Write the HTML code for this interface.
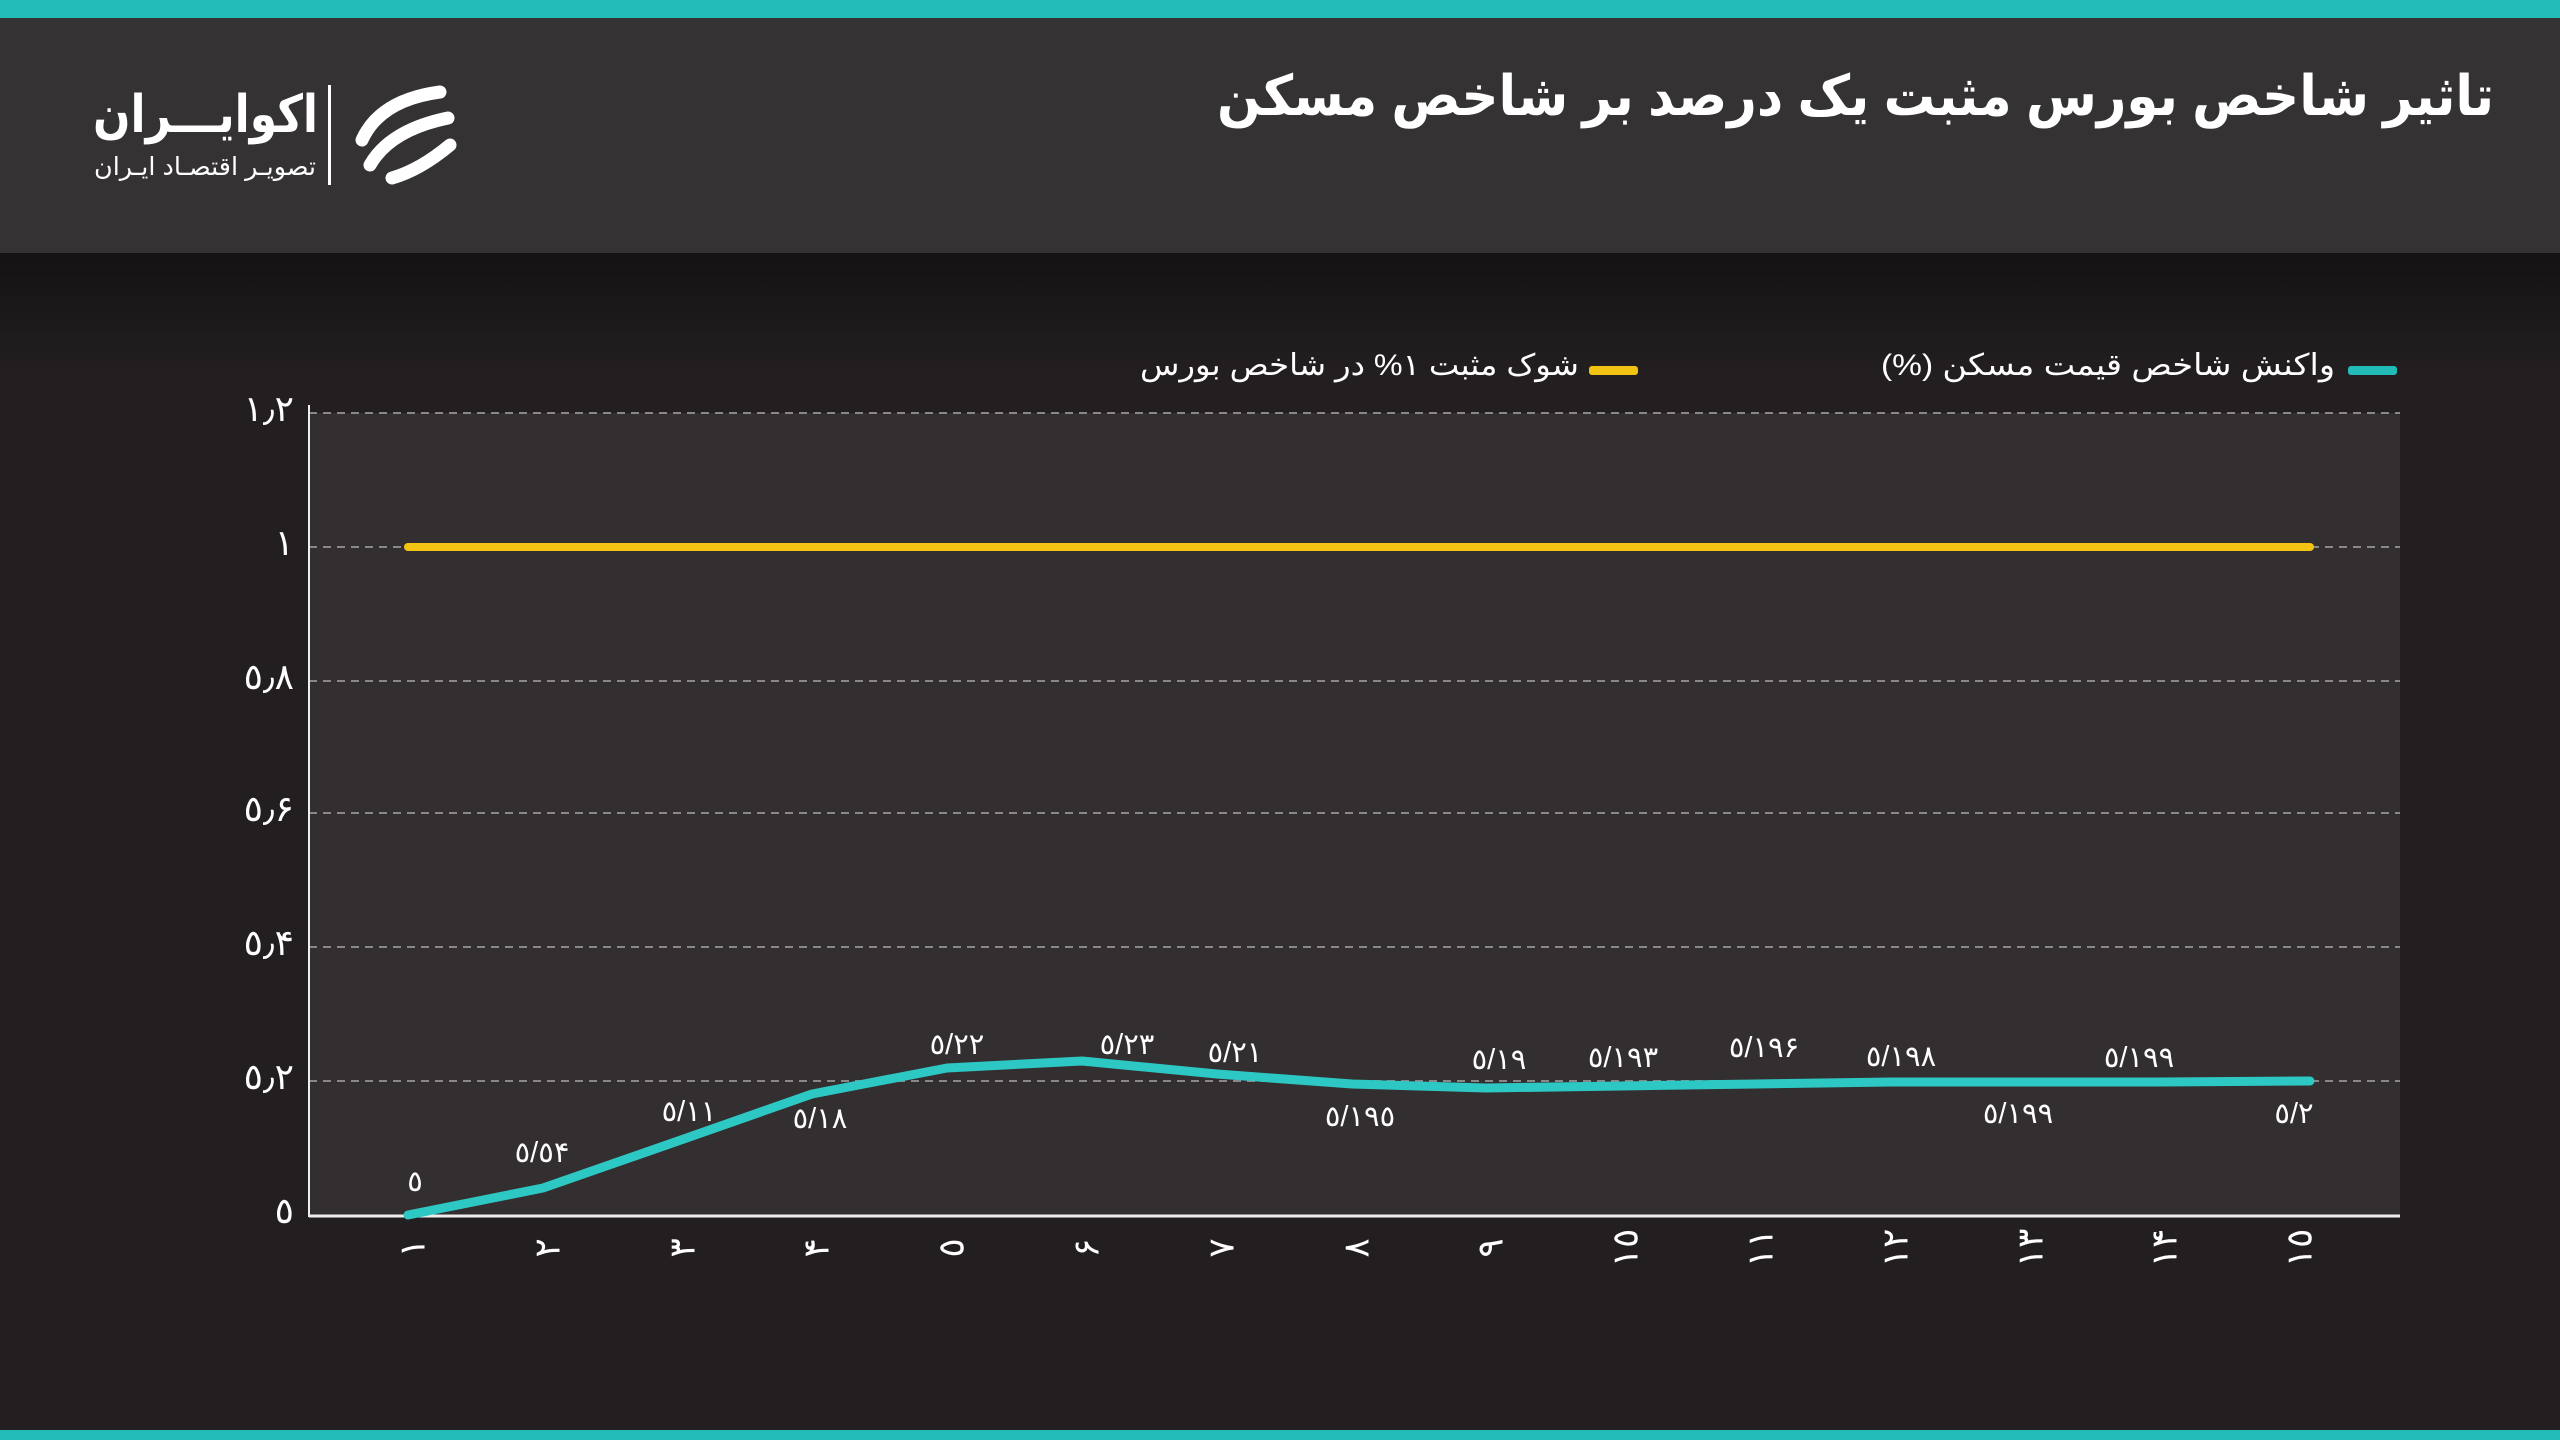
<!DOCTYPE html>
<html><head><meta charset="utf-8"><style>
html,body{margin:0;padding:0;background:#231f20;}
svg{display:block}
text{font-family:"Liberation Sans","Noto Sans CJK SC","DejaVu Sans",sans-serif;fill:#fff}
</style></head><body>
<svg width="2560" height="1440" viewBox="0 0 2560 1440" xmlns="http://www.w3.org/2000/svg">
<defs>
<linearGradient id="sh" x1="0" y1="0" x2="0" y2="1">
<stop offset="0" stop-color="#141213"/><stop offset="1" stop-color="#231f20"/>
</linearGradient>
</defs>
<rect width="2560" height="1440" fill="#231f20"/>
<rect y="253" width="2560" height="120" fill="url(#sh)"/>
<rect width="2560" height="253" fill="#353233"/>
<rect width="2560" height="18" fill="#22bbb8"/>
<rect y="1430" width="2560" height="10" fill="#22bbb8"/>

<text x="2494" y="115" font-size="56" font-weight="bold" text-anchor="start" direction="rtl" textLength="1277" lengthAdjust="spacingAndGlyphs">تاثیر شاخص بورس مثبت یک درصد بر شاخص مسکن</text>

<!-- logo -->
<text x="318" y="132" font-size="52" font-weight="bold" text-anchor="start" direction="rtl" textLength="225" lengthAdjust="spacingAndGlyphs">اکوایـــران</text>
<text x="316" y="175" font-size="25" text-anchor="start" direction="rtl" textLength="222" lengthAdjust="spacingAndGlyphs">تصویـر اقتصـاد ایـران</text>
<rect x="328" y="85" width="3" height="100" fill="#fff"/>
<g fill="none" stroke="#fff" stroke-width="13" stroke-linecap="round">
<path d="M440 92 Q380 100 362 140"/>
<path d="M448 118 Q390 130 370 165"/>
<path d="M450 145 Q420 170 392 178"/>
</g>

<!-- legend -->
<rect x="2348" y="366" width="49" height="9" rx="3" fill="#22bbb8"/>
<text x="2335" y="375" font-size="30" text-anchor="start" direction="rtl" textLength="454" lengthAdjust="spacingAndGlyphs">واکنش شاخص قیمت مسکن (%)</text>
<rect x="1589" y="366" width="49" height="9" rx="3" fill="#f3c313"/>
<text x="1579" y="375" font-size="30" text-anchor="start" direction="rtl" textLength="439" lengthAdjust="spacingAndGlyphs">شوک مثبت ۱% در شاخص بورس</text>

<!-- plot -->
<rect x="309" y="413" width="2091" height="802" fill="#332f30"/>
<g stroke="#8a8788" stroke-width="2" stroke-dasharray="8,6">
<line x1="309" y1="413" x2="2400" y2="413"/>
<line x1="309" y1="547" x2="2400" y2="547"/>
<line x1="309" y1="681" x2="2400" y2="681"/>
<line x1="309" y1="813" x2="2400" y2="813"/>
<line x1="309" y1="947" x2="2400" y2="947"/>
<line x1="309" y1="1081" x2="2400" y2="1081"/>
</g>
<line x1="309" y1="405" x2="309" y2="1217" stroke="#eee" stroke-width="2"/>
<line x1="309" y1="1216" x2="2400" y2="1216" stroke="#eee" stroke-width="3"/>

<g font-size="36" text-anchor="end">
<text x="294" y="421">۱٫۲</text>
<text x="294" y="555">۱</text>
<text x="294" y="689">٥٫۸</text>
<text x="294" y="821">٥٫۶</text>
<text x="294" y="955">٥٫۴</text>
<text x="294" y="1089">٥٫۲</text>
<text x="294" y="1223">٥</text>
</g>

<line x1="408" y1="547" x2="2310" y2="547" stroke="#f3c313" stroke-width="8" stroke-linecap="round"/>
<polyline fill="none" stroke="#2ec8c4" stroke-width="9" stroke-linecap="round" stroke-linejoin="round"
points="408,1215 543,1188 678,1141 812,1094 947,1068 1082,1061 1217,1074 1352,1084 1486,1088 1621,1086 1756,1084 1891,1082 2026,1082 2160,1082 2310,1081"/>

<g font-size="29" text-anchor="middle" dominant-baseline="central">
<text x="415" y="1182">٥</text>
<text x="542" y="1153">٥/٥۴</text>
<text x="689" y="1112">٥/۱۱</text>
<text x="820" y="1119">٥/۱۸</text>
<text x="957" y="1045">٥/۲۲</text>
<text x="1127" y="1045">٥/۲۳</text>
<text x="1235" y="1053">٥/۲۱</text>
<text x="1360" y="1117">٥/۱۹٥</text>
<text x="1499" y="1060">٥/۱۹</text>
<text x="1623" y="1058">٥/۱۹۳</text>
<text x="1764" y="1048">٥/۱۹۶</text>
<text x="1901" y="1057">٥/۱۹۸</text>
<text x="2018" y="1114">٥/۱۹۹</text>
<text x="2139" y="1058">٥/۱۹۹</text>
<text x="2294" y="1114">٥/۲</text>
</g>

<g font-size="36" text-anchor="middle" dominant-baseline="central">
<text transform="translate(412,1248) rotate(-90)">۱</text>
<text transform="translate(547,1248) rotate(-90)">۲</text>
<text transform="translate(682,1248) rotate(-90)">۳</text>
<text transform="translate(816,1248) rotate(-90)">۴</text>
<text transform="translate(951,1248) rotate(-90)">٥</text>
<text transform="translate(1086,1248) rotate(-90)">۶</text>
<text transform="translate(1221,1248) rotate(-90)">۷</text>
<text transform="translate(1356,1248) rotate(-90)">۸</text>
<text transform="translate(1490,1248) rotate(-90)">۹</text>
<text transform="translate(1625,1248) rotate(-90)">۱٥</text>
<text transform="translate(1760,1248) rotate(-90)">۱۱</text>
<text transform="translate(1895,1248) rotate(-90)">۱۲</text>
<text transform="translate(2030,1248) rotate(-90)">۱۳</text>
<text transform="translate(2164,1248) rotate(-90)">۱۴</text>
<text transform="translate(2299,1248) rotate(-90)">۱٥</text>
</g>
</svg>
</body></html>
